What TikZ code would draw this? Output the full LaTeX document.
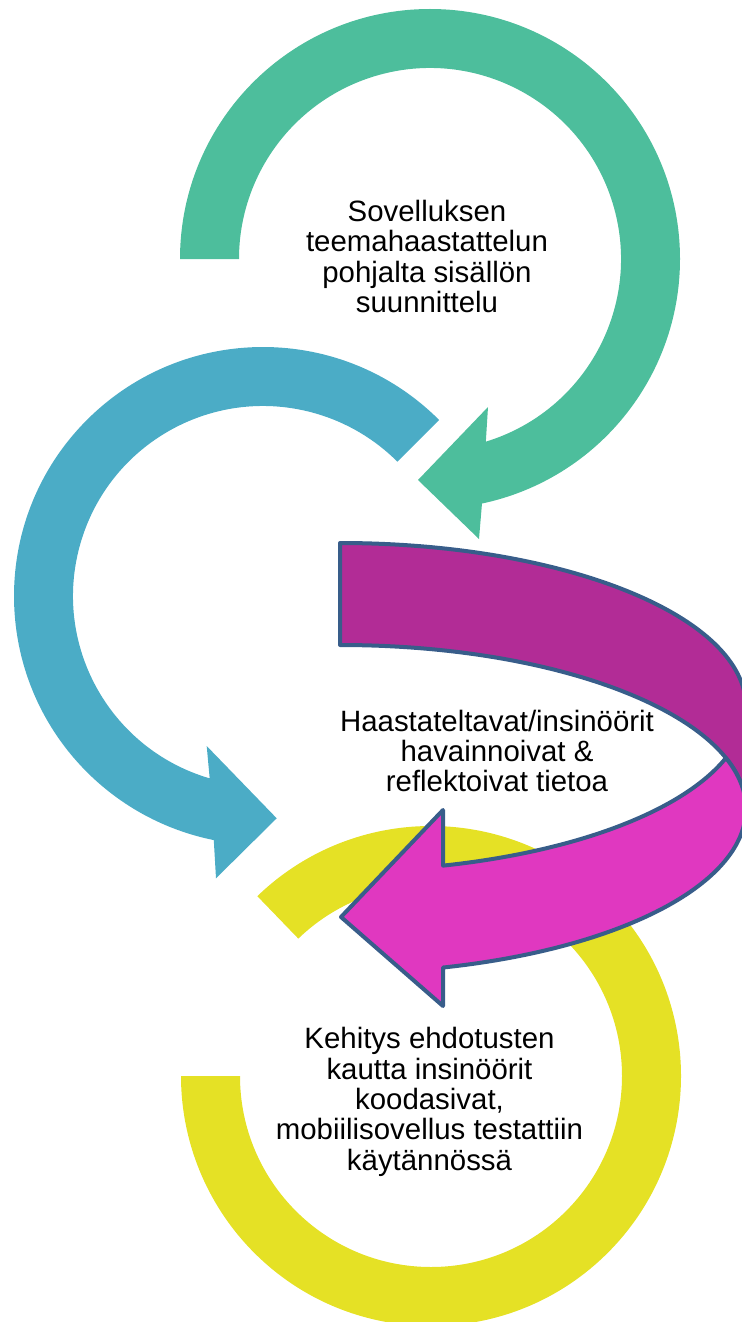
\documentclass[tikz,border=0pt]{standalone}
\usepackage{fontspec}
\setmainfont{Liberation Sans}
\usetikzlibrary{calc}
\definecolor{ringgreen}{RGB}{77,190,156}
\definecolor{ringblue}{RGB}{75,172,198}
\definecolor{ringyellow}{RGB}{229,225,37}
\definecolor{bandback}{RGB}{178,44,150}
\definecolor{bandfront}{RGB}{224,56,192}
\definecolor{bandline}{RGB}{56,93,138}
\begin{document}
\begin{tikzpicture}[x=0.5pt,y=0.5pt,
  ring/.style={fill=#1, draw=none},
  band/.style={fill=#1, draw=bandline, line width=2pt, line join=round},
  label/.style={align=center, inner sep=0pt, text=black,
    font=\fontsize{14.7pt}{15.2pt}\selectfont}]
\useasboundingbox (0,0) rectangle (742,-1322);
\clip (0,0) rectangle (742,-1322);

% centres of the three ring arrows and of the two band ellipses
\coordinate (G) at (430,-259);
\coordinate (B) at (263,-596);
\coordinate (Y) at (431,-1076);
\coordinate (EA) at (340,-707);
\coordinate (EB) at (340,-809);

% green ring arrow, clockwise from the left
\path[ring=ringgreen] ($(G)+(180:250)$) arc[start angle=180,end angle=-78,radius=250]
  -- (479,-539) -- (418,-480) -- (488,-407)
  -- ($(G)+(-73:191)$) arc[start angle=-73,end angle=180,radius=191] -- cycle;

% blue ring arrow, anticlockwise from the upper right
\path[ring=ringblue] ($(B)+(45:249)$) arc[start angle=45,end angle=258.6,radius=249]
  -- (216,-878.3) -- (276.7,-818.3) -- (206.7,-746)
  -- ($(B)+(253.7:190)$) arc[start angle=253.7,end angle=45,radius=190] -- cycle;

% yellow open ring
\path[ring=ringyellow] ($(Y)+(134:250)$) arc[start angle=134,end angle=-180,radius=250]
  -- ($(Y)+(180:191)$) arc[start angle=-180,end angle=134,radius=191] -- cycle;

% curved band: back part
\path[band=bandback] (340,-543) arc[start angle=90,end angle=0,x radius=406,y radius=164]
  -- (746,-809) arc[start angle=0,end angle=90,x radius=406,y radius=164] -- cycle;

% curved band: front part with the arrow head
\path[band=bandfront] (341,-917) -- (443,-810)
  -- ($(EA)+(-75.3:406 and 164)$)
  arc[start angle=-75.3,end angle=-18.1,x radius=406,y radius=164]
  arc[start angle=18.1,end angle=-75.3,x radius=406,y radius=164]
  -- (443,-1006) -- cycle;

% labels
\node[label] (plan) at (427,-256.3)
  {Sovelluksen\\teemahaastattelun\\pohjalta sisällön\\suunnittelu};
\node[label] (observe) at (497,-751)
  {Haastateltavat/insinöörit\\havainnoivat \&\\reflektoivat tietoa};
\node[label] (develop) at (429.5,-1101.8)
  {Kehitys ehdotusten\\kautta insinöörit\\koodasivat,\\mobiilisovellus testattiin\\käytännössä};
\end{tikzpicture}
\end{document}
